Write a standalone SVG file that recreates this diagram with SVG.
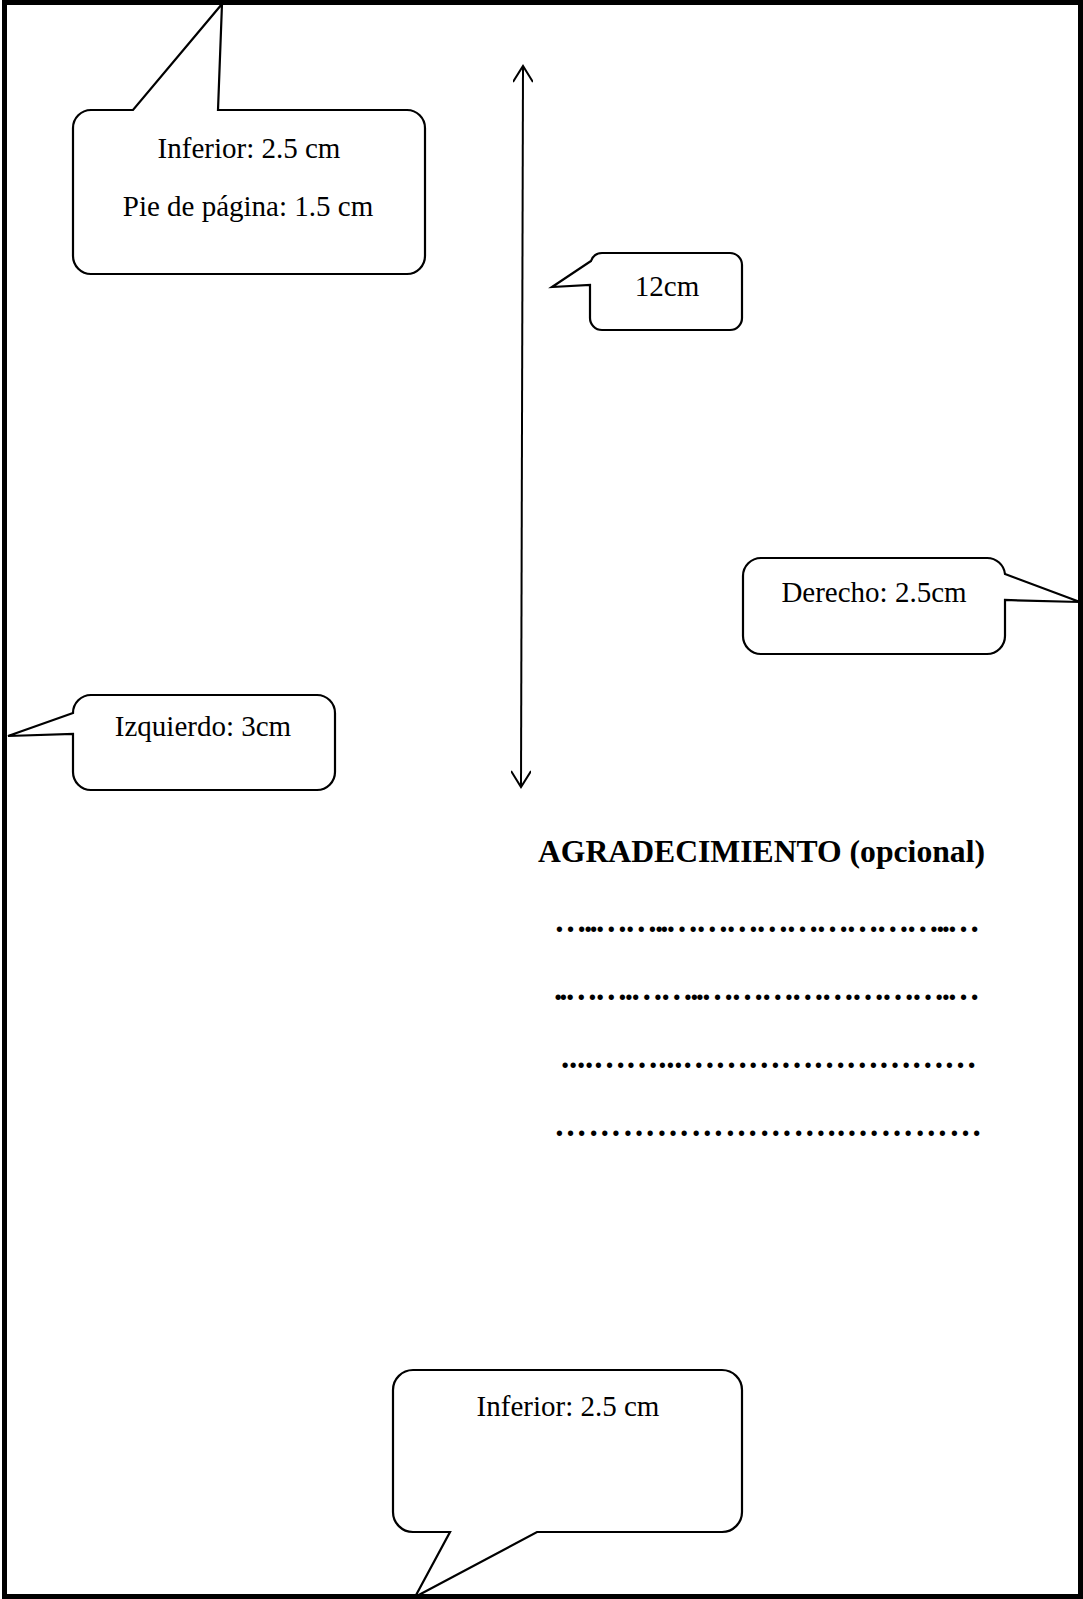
<svg xmlns="http://www.w3.org/2000/svg" width="1083" height="1599" viewBox="0 0 1083 1599">
<style>
.callout{fill:#fff;stroke:#000;stroke-width:2.2;stroke-linejoin:miter}
.lbl{font-family:"Liberation Serif","Times New Roman",serif;font-size:29px;fill:#000;text-anchor:middle}
.title{font-family:"Liberation Serif","Times New Roman",serif;font-size:31.5px;font-weight:bold;fill:#000}
.dots{font-family:"Liberation Serif","Times New Roman",serif;font-size:33px;font-weight:bold;fill:#000}
</style>
<defs>
<marker id="openV" viewBox="0 0 20 20" refX="18" refY="10" markerWidth="20" markerHeight="20" markerUnits="userSpaceOnUse" orient="auto-start-reverse">
<path d="M2,0 L18,10 L2,20" fill="none" stroke="#000" stroke-width="2"/>
</marker>
</defs>
<rect x="0" y="0" width="1083" height="1599" fill="#fff"/>
<g id="page">
<rect x="4.5" y="2.5" width="1076" height="1594" fill="none" stroke="#000" stroke-width="5"/>
</g>
<g id="connectors">
<line x1="523" y1="66" x2="521" y2="787" stroke="#000" stroke-width="2" marker-start="url(#openV)" marker-end="url(#openV)"/>
</g>
<g id="callout-top">
<path class="callout" d="M91,110 L133,110 L222,4 L218,110 L407,110 A18,18 0 0 1 425,128 L425,256 A18,18 0 0 1 407,274 L91,274 A18,18 0 0 1 73,256 L73,128 A18,18 0 0 1 91,110 Z"/>
<text class="lbl" x="249" y="158">Inferior: 2.5 cm</text>
<text class="lbl" x="248" y="216">Pie de página: 1.5 cm</text>
</g>
<g id="callout-12cm">
<path class="callout" d="M602,253 L730,253 A12,12 0 0 1 742,265 L742,318 A12,12 0 0 1 730,330 L602,330 A12,12 0 0 1 590,318 L590,285 L552,287 L591,261 A12,12 0 0 1 602,253 Z"/>
<text class="lbl" x="667" y="296">12cm</text>
</g>
<g id="callout-derecho">
<path class="callout" d="M761,558 L987,558 A18,18 0 0 1 1005,574 L1080,602 L1005,600 L1005,636 A18,18 0 0 1 987,654 L761,654 A18,18 0 0 1 743,636 L743,576 A18,18 0 0 1 761,558 Z"/>
<text class="lbl" x="874" y="602">Derecho: 2.5cm</text>
</g>
<g id="callout-izquierdo">
<path class="callout" d="M91,695 L317,695 A18,18 0 0 1 335,713 L335,772 A18,18 0 0 1 317,790 L91,790 A18,18 0 0 1 73,772 L73,734 L8,736 L73,713 A18,18 0 0 1 91,695 Z"/>
<text class="lbl" x="203" y="736">Izquierdo: 3cm</text>
</g>
<g id="callout-bottom">
<path class="callout" d="M413,1370 L722,1370 A20,20 0 0 1 742,1390 L742,1512 A20,20 0 0 1 722,1532 L537,1532 L415,1597 L450,1532 L413,1532 A20,20 0 0 1 393,1512 L393,1390 A20,20 0 0 1 413,1370 Z"/>
<text class="lbl" x="568" y="1416">Inferior: 2.5 cm</text>
</g>
<g id="content">
<text class="title" x="538" y="862" textLength="447" lengthAdjust="spacingAndGlyphs">AGRADECIMIENTO (opcional)</text>
<text class="dots" x="554" y="932" textLength="426" lengthAdjust="spacing">…..……..………………………..…</text>
<text class="dots" x="554" y="1000" textLength="426" lengthAdjust="spacing">..…….……..…………………….…</text>
<text class="dots" x="561" y="1068" textLength="416" lengthAdjust="spacing">....……...………………………</text>
<text class="dots" x="554" y="1136" textLength="428" lengthAdjust="spacing">……………………..…………</text>
</g>
</svg>
